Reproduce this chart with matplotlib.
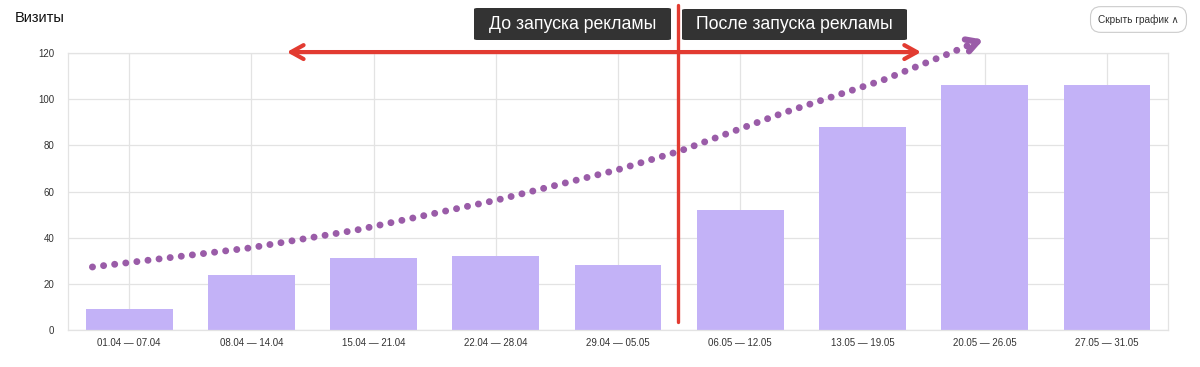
import matplotlib
matplotlib.use("Agg")
import matplotlib.pyplot as plt
from matplotlib.patches import FancyBboxPatch

plt.rcParams['font.family'] = ['Liberation Sans', 'DejaVu Sans']

# ---- data ----
categories = ["01.04 — 07.04", "08.04 — 14.04", "15.04 — 21.04", "22.04 — 28.04",
              "29.04 — 05.05", "06.05 — 12.05", "13.05 — 19.05", "20.05 — 26.05",
              "27.05 — 31.05"]
visits = [9, 24, 31, 32, 28, 52, 88, 106, 106]
y_ticks = [0, 20, 40, 60, 80, 100, 120]

# hand-drawn trend annotation (data coordinates: category index, visits)
trend_x = [-0.30, 0.98, 1.86, 3.01, 3.99, 4.51, 5.35, 6.17, 6.72, 6.92]
trend_y = [27.3, 35.5, 43.3, 56.3, 69.3, 77.6, 94.0, 108.3, 120.0, 124.5]
trend_tip = (6.99, 125.8)

# red markers
launch_x = 4.49
period_arrow_x = (1.29, 6.48)
period_arrow_y = 120.4

label_before = "До запуска рекламы"
label_after = "После запуска рекламы"
title = "Визиты"
button = "Скрыть график ∧"

# ---- styling ----
bar_color = "#c3b2f7"
grid_color = "#e3e3e3"
purple = "#9a5ca8"
red = "#e23b31"

W, H = 1200, 367
fig = plt.figure(figsize=(W / 100, H / 100), dpi=100)
ax = fig.add_axes([68 / W, 1 - 330 / H, 1100 / W, 277 / H])

xs = list(range(len(categories)))
ax.bar(xs, visits, width=0.71, color=bar_color, zorder=2)

ax.set_xlim(-0.5, len(categories) - 0.5)
ax.set_ylim(0, 120)
ax.set_yticks(y_ticks)
ax.set_xticks(xs)
ax.set_xticklabels(categories)
ax.tick_params(axis='both', length=0, labelsize=7, labelcolor="#333333")
ax.tick_params(axis='y', pad=10)
ax.tick_params(axis='x', pad=6)
ax.grid(True, color=grid_color, linewidth=0.9, zorder=0)
ax.set_axisbelow(True)
for s in ax.spines.values():
    s.set_color(grid_color)
    s.set_linewidth(0.9)

# dotted purple trend
ax.plot(trend_x, trend_y, color=purple, linewidth=5,
        linestyle=(0, (0.01, 1.6)), dash_capstyle='round',
        clip_on=False, zorder=5)
ax.annotate("", xy=trend_tip, xytext=(trend_x[-1], trend_y[-1]),
            arrowprops=dict(arrowstyle="->,head_length=0.8,head_width=0.45",
                            color=purple, lw=4.5, shrinkA=0, shrinkB=0,
                            capstyle='round', joinstyle='round'),
            annotation_clip=False, zorder=5)

# red horizontal double arrow
ax.annotate("", xy=(period_arrow_x[0], period_arrow_y),
            xytext=(period_arrow_x[1], period_arrow_y),
            arrowprops=dict(arrowstyle="<->,head_length=0.9,head_width=0.5",
                            color=red, lw=3, shrinkA=0, shrinkB=0),
            annotation_clip=False, zorder=6)

# red vertical line
ax.plot([launch_x, launch_x], [3.5, 141], color=red, linewidth=2.4,
        solid_capstyle='round', clip_on=False, zorder=6)

# dark label boxes
def fig_box(x0, y0, x1, y1, **kw):
    p = FancyBboxPatch((x0 / W, 1 - y1 / H), (x1 - x0) / W, (y1 - y0) / H,
                       boxstyle="round,pad=0,rounding_size=0.003",
                       transform=fig.transFigure, **kw)
    fig.patches.append(p)

fig_box(474, 8, 671, 40, facecolor="#333333", edgecolor="none", zorder=7)
fig_box(682, 9, 907, 40, facecolor="#333333", edgecolor="none", zorder=7)
fig.text((474 + 671) / 2 / W, 1 - 24.5 / H, label_before, color="white",
         fontsize=12.7, ha="center", va="center", zorder=8)
fig.text((682 + 907) / 2 / W, 1 - 24.5 / H, label_after, color="white",
         fontsize=12.7, ha="center", va="center", zorder=8)

# title
fig.text(15 / W, 1 - 18 / H, title, fontsize=10.5, color="#111111",
         ha="left", va="center")

# button
fig.text(1138.5 / W, 1 - 19.5 / H, button, fontsize=7.3, color="#333333",
         ha="center", va="center",
         bbox=dict(boxstyle="round,pad=0.75,rounding_size=1.0",
                   facecolor="white", edgecolor="#cccccc", linewidth=0.8))

fig.savefig("out.png", dpi=100)
